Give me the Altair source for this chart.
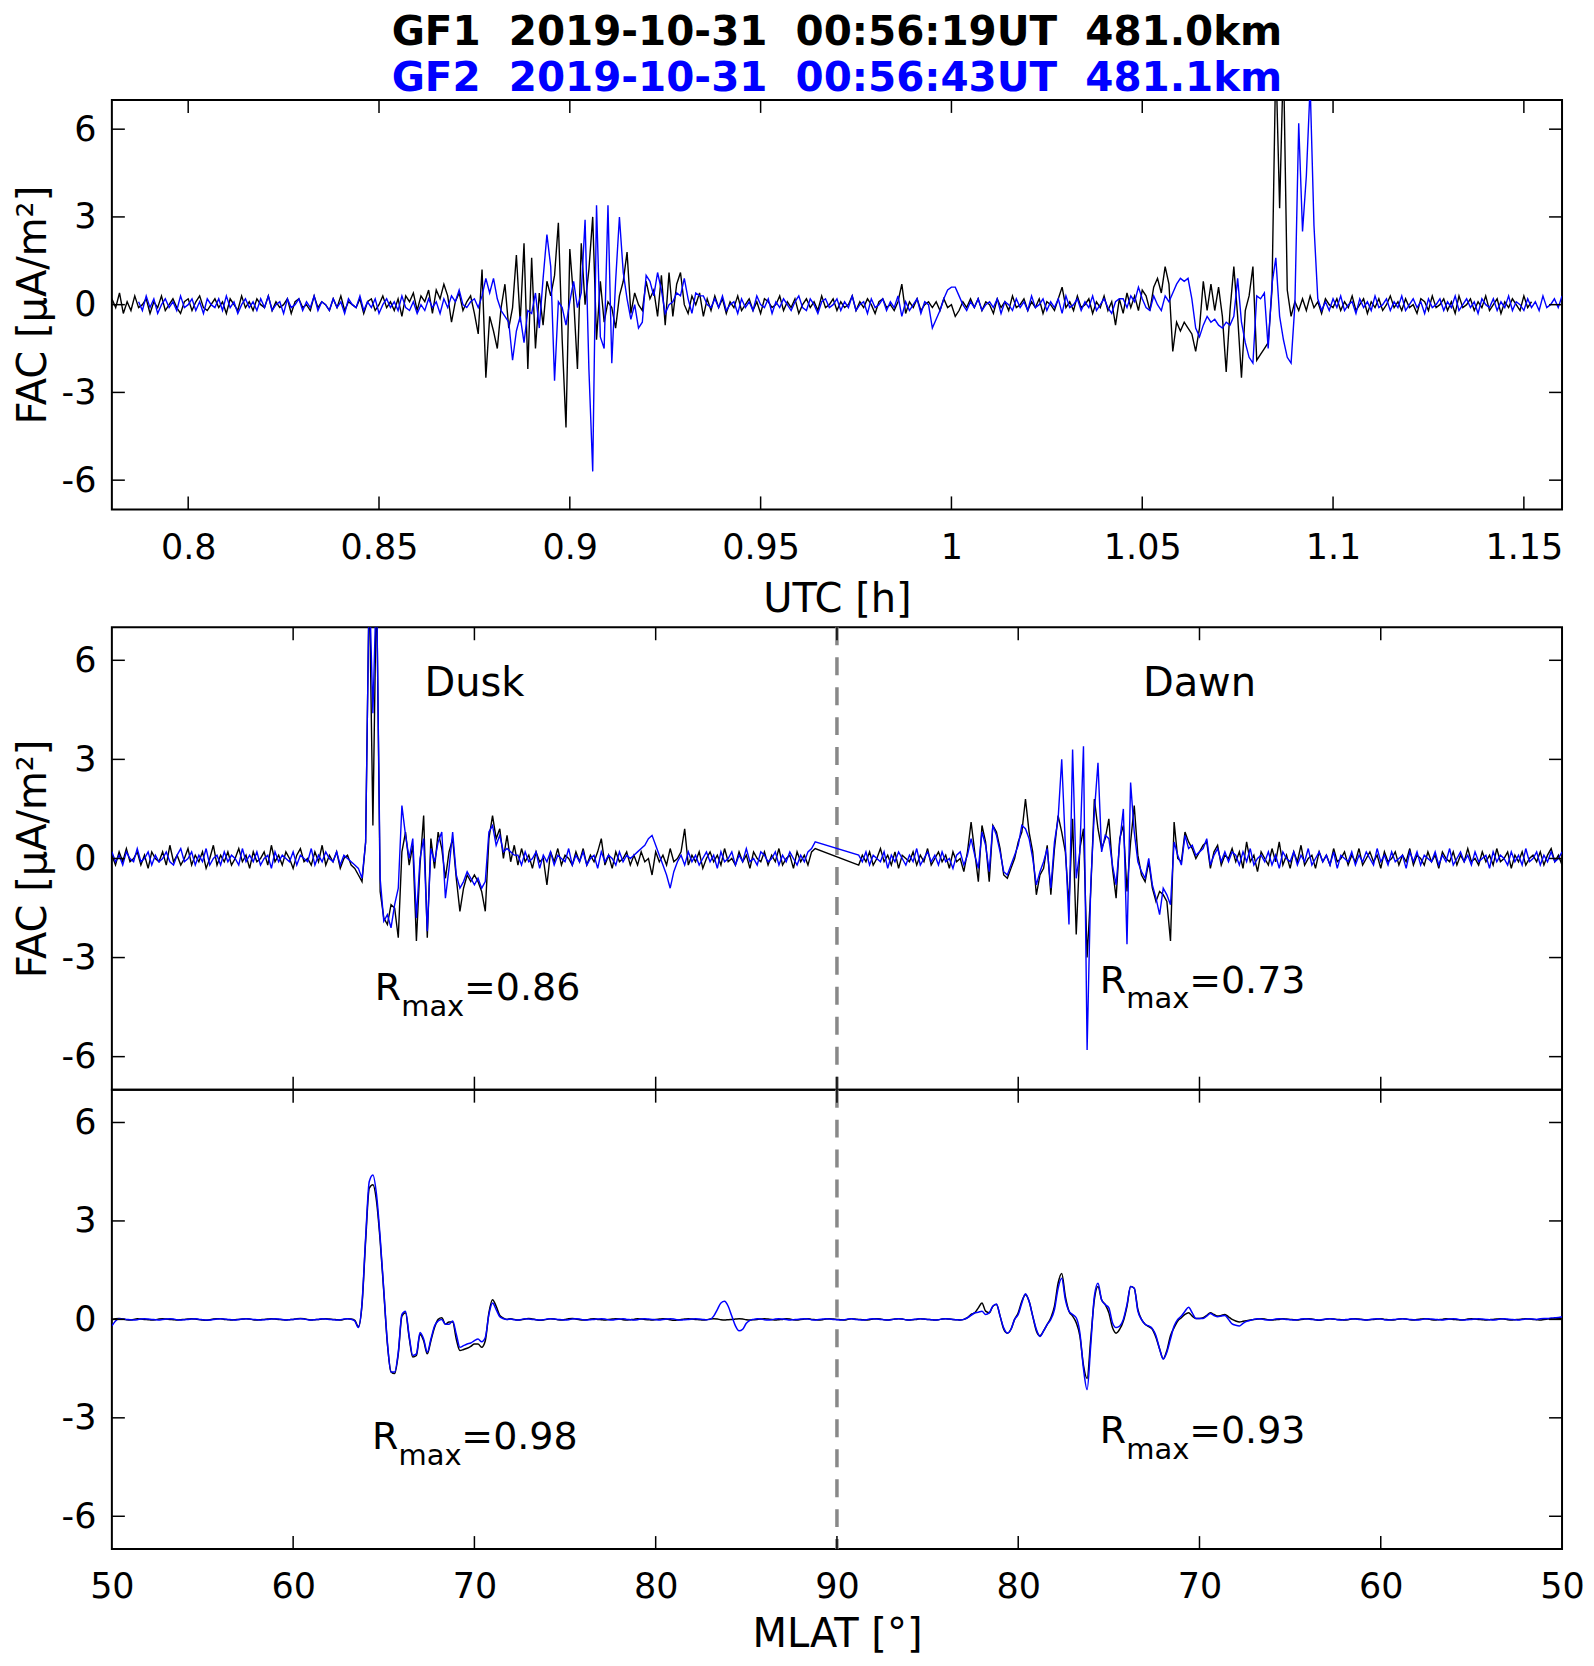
import altair as alt
import numpy as np
import pandas as pd

FONT = "DejaVu Sans"

# ---------------- text ----------------
TITLE_GF1 = "GF1\u00a0\u00a02019-10-31\u00a0\u00a000:56:19UT\u00a0\u00a0481.0km"
TITLE_GF2 = "GF2\u00a0\u00a02019-10-31\u00a0\u00a000:56:43UT\u00a0\u00a0481.1km"
Y_TITLE = "FAC [\u03bcA/m\u00b2]"
X_TITLE_TOP = "UTC [h]"
X_TITLE_BOT = "MLAT [\u00b0]"

UTC_TICKS = [0.8, 0.85, 0.9, 0.95, 1.0, 1.05, 1.1, 1.15]
MLAT_LABEL_TICKS = [50, 60, 70, 80, 90, 100, 110, 120, 130]  # position along pass (dawn side mirrored)
MLAT_TICKS = [60, 70, 80, 90, 100, 110, 120]
Y_TICKS = [-6, -3, 0, 3, 6]

# ---------------- top panel: FAC vs UTC (units of 0.1 uA/m^2), 0.001 h sampling ----------------
UTC_START = 0.78
UTC_STEP = 0.001
GF1_TOP_FIRST = 0   # first sample index of GF1
GF2_TOP_FIRST = 7   # GF2 record starts 24 s later

GF1_TOP = [
    2,-1,4,-3,1,-2,3,-1,0,2,-3,1,-1,3,-2,0,2,-1,-3,1,
    2,-2,1,3,-1,-2,0,2,-1,1,-3,2,0,-2,3,-1,1,-2,2,0,
    -1,3,-2,1,-1,0,2,-3,1,2,-1,0,-2,3,-1,1,0,-2,2,-1,
    3,-2,1,0,-1,2,-3,1,2,-2,0,3,-1,1,-2,2,-4,3,1,4,
    -2,3,1,5,-3,
    5,2,7,3,-6,1,4,-2,1,3,-3,-10,
    12,-25,-4,-9,-15,-1,7,-8,-1,17,-6,21,-22,16,-15,4,-7,8,3,10,28,-12,-42,19,2,-22,21,0,12,30,-12,8,-6,1,-1,-8,3,8,18,-3,4,
    0,-2,8,2,5,-4,10,-7,11,-4,7,11,0,-3,3,0,4,-4,2,-2,3,-1,
    2,-3,1,-1,3,-2,0,2,-2,1,-3,2,1,-1,0,3,-2,1,-1,2,-3,0,2,-1,1,-2,3,-1,0,2,
    -2,1,-1,0,3,-2,1,-1,2,0,-3,1,2,-1,0,-2,1,7,-3,1,-1,2,-2,0,1,-1,
    1,-2,2,-1,0,-4,-2,1,-1,2,
    -1,2,-2,1,0,-3,2,-1,1,-2,3,-1,0,2,-2,1,-1,2,-3,1,0,-2,2,6,-1,1,-2,3,-1,0,2,-3,1,-1,3,-2,1,
    -7,
    2,-3,4,-1,3,-2,5,
    3,-2,6,9,4,13,7,-16,-6,-9,-6,-8,-10,-16,-8,8,-2,7,-2,6,-4,-23,-2,13,-4,-25,-2,3,13,-19,-17,-15,-13,5,85,33,85,5,-4,1,-2,2,
    -2,3,-1,1,-3,2,0,-1,2,-2,1,-1,3,-2,0,2,-3,1,-1,2,-2,0,3,-1,1,-2,2,-1,0,-3,
    2,1,-2,3,-1,0,2,-2,1,-3,3,-1,0,2,-2,1,-1,3,-2,0,2,-3,1,-1,2,0,-2,3,-1,1,
]

GF2_TOP = [
    1,-2,3,-1,2,-3,0,2,-1,1,-2,3,-1,0,2,-2,1,-3,2,0,
    -1,2,-2,3,-1,1,-3,0,2,-1,1,-2,2,-1,3,-2,0,1,-3,2,
    -1,0,2,-2,1,-1,3,-2,1,0,-2,2,-1,1,-3,2,0,-1,3,-2,
    1,-1,2,-3,0,2,-1,1,-2,3,-1,-2,1,-3,0,-2,2,-1,1,-3,
    2,-1,3,1,
    5,0,-1,1,2,-1,3,9,4,9,2,-2,-4,-6,-19,-9,-4,-13,-2,-3,4,-8,9,24,13,-26,1,-1,-7,1,
    8,-1,4,29,-22,-57,34,-11,-15,34,-20,8,30,11,2,-5,0,-8,-6,10,8,3,11,5,-3,0,1,4,3,9,
    2,-3,4,3,3,0,-1,
    2,-1,3,-2,0,1,-3,2,-1,1,-2,3,0,-1,2,-3,1,-1,2,0,-2,1,3,-1,-2,2,0,-3,1,2,
    -1,0,2,-2,1,-1,3,-2,0,1,-3,2,-1,0,2,-2,1,-1,3,-4,1,-2,0,2,-3,1,0,-8,
    -5,-2,2,5,6,6,3,0,-2,
    1,-1,2,-2,0,1,-1,2,-3,1,0,-2,2,-1,1,-2,3,-1,0,2,-2,1,-1,2,-3,3,-1,0,2,-2,
    1,-1,3,-2,0,2,-1,-3,1,2,
    2,-1,3,1,6,2,-1,-2,3,0,-2,3,1,4,7,9,8,9,2,-8,-11,-7,-4,-6,-5,-7,-8,-6,-7,-4,
    9,-6,-13,-18,-20,3,2,4,-15,7,16,-4,-12,-18,-20,0,62,25,44,75,27,2,-2,
    1,-2,2,-1,3,-2,0,1,-3,2,-1,1,-2,3,-1,0,2,-2,1,-1,3,-2,0,2,-1,1,-3,2,-1,0,
    2,-2,1,-1,3,-2,0,2,-1,1,-3,2,0,-1,2,-2,1,-1,3,-2,1,0,-2,2,-1,1,-2,3,-1,0,
    2,-1,3,
]

# ---------------- middle panel: FAC vs MLAT position (0.1 uA/m^2), 0.2 deg sampling ----------------
MLAT_STEP = 0.2
DUSK_START = 50.0   # dusk leg from 50 deg up to 88.8 deg
DAWN_START = 91.2   # dawn leg from 88.8 deg (position 91.2) down to 50 deg (position 130)

GF1_MID_DUSK = [
    1,-2,2,-1,3,-1,0,2,-2,1,-3,2,0,-1,2,-2,4,-1,1,-2,
    0,3,-2,1,-1,2,-3,0,4,-2,1,-1,2,-2,0,3,-1,1,-3,2,
    -1,0,2,-2,4,-1,1,-2,2,0,-3,1,3,-1,0,-2,2,-1,4,-2,
    1,-1,2,-3,0,1,-2,-3,-5,
    -7,5,85,10,85,-10,-18,-20,-14,-15,-24,2,8,-2,4,-25,-2,13,-24,6,-3,8,3,-6,2,6,-6,-16,-9,-5,
    -7,-5,-7,-10,-16,6,13,6,9,0,7,-1,4,
    -2,3,-1,1,-3,2,-1,0,-8,2,-1,3,-2,1,0,-2,2,-1,3,-2,1,-1,2,6,-2,1,-3,2,-1,0,2,-2,
    1,-2,2,-1,0,-5,2,-1,1,-2,3,-1,0,2,9,
    -2,1,-1,2,-3,0,2,-1,1,-2,3,-1,0,-2,2,-1,1,-3,2,0,-1,2,-2,1,-1,3,-2,0,1,-3,
    2,-1,1,-2,2,3,
]
GF2_MID_DUSK = [
    2,-1,1,-2,2,0,-1,3,-1,0,2,-2,1,-1,0,2,-1,-2,1,3,
    -1,0,2,-2,1,-1,3,-2,0,1,-2,2,-1,1,0,-2,3,-1,1,-1,
    2,-2,0,1,-3,2,-1,1,0,-1,2,-2,1,0,-1,3,-2,1,-1,2,
    0,-1,2,-2,1,0,-1,-2,-3,
    -6,5,85,44,85,-6,-19,-17,-21,-14,-9,16,7,0,6,-18,0,6,-22,3,-1,5,8,-12,-3,8,-5,-9,-7,-4,
    -6,-8,-6,-9,-7,8,10,4,7,2,3,2,1,
    1,-2,2,-1,0,2,-3,1,-1,2,-2,1,0,-1,3,-2,1,-1,2,-2,0,1,-3,2,-1,1,0,-2,2,-1,1,0,
    1,2,3,4,6,7,4,1,-2,-5,-9,-4,-1,1,-2,
    2,-1,1,-2,0,2,-1,1,-3,2,-1,0,2,-2,1,-1,3,-1,0,-2,2,1,-1,0,2,-2,1,-1,2,0,
    -2,1,-1,2,3,5,
]
GF1_MID_DAWN = [
    -2,1,-1,2,-2,0,3,-1,1,-2,2,-3,1,0,-1,2,-2,1,-1,3,-2,0,2,-1,1,-3,2,-1,0,-4,
    2,
    11,2,-7,10,5,-7,10,8,3,-5,-6,-3,0,5,8,18,8,2,-11,-5,
    -3,4,-11,3,13,8,2,-14,12,-23,3,9,-30,-10,18,9,3,6,12,-3,
    -12,6,10,-10,5,16,1,-5,-7,-1,-9,-13,-10,-11,-13,-25,11,0,-1,8,
    5,3,0,2,4,5,-3,2,4,-2,1,0,3,
    -1,2,-3,5,-1,1,-4,2,0,-2,3,-1,5,-2,1,-3,2,-1,4,-2,
    0,1,-3,2,-1,1,-2,3,-1,0,2,-2,1,-1,3,-2,0,2,-1,1,
    -3,2,-1,0,2,-2,1,-1,3,-2,1,0,-2,2,-1,1,-3,2,0,-1,
    2,-2,1,-1,3,-1,0,-2,2,-1,1,-2,3,-1,0,2,-3,1,-1,2,
    -2,0,1,-1,2,-2,1,3,-1,1,-2,
]
GF2_MID_DAWN = [
    1,-1,2,-2,1,0,-1,2,-3,1,-1,2,0,-2,1,-1,3,-2,0,2,-1,1,-2,2,-1,0,-3,1,2,-2,
    1,
    6,1,-3,8,4,-4,10,7,2,-4,-5,-2,1,4,10,9,6,0,-8,-4,
    -1,3,-9,5,12,30,4,-20,33,-6,2,34,-58,-8,14,29,2,7,6,-2,
    -8,5,15,-26,23,8,-1,-4,-6,0,-8,-12,-17,-9,-11,-14,5,1,-2,7,
    3,4,1,2,3,6,-2,1,3,-1,2,-1,2,
    1,-2,2,-1,3,-2,0,1,-1,2,-2,1,-3,2,0,-1,2,-2,1,-1,
    3,-2,0,2,-1,1,-2,2,-3,1,0,-1,2,-2,1,-1,2,0,-2,3,
    -1,1,-2,2,-1,0,1,-3,2,-1,2,-2,1,0,-1,2,-2,1,-1,3,
    -2,0,2,-1,1,-2,2,-1,0,1,-3,2,-1,1,0,-2,2,-1,1,-2,
    3,-1,0,2,-2,1,-1,2,-1,0,2,
]

# ---------------- bottom panel: filtered FAC vs MLAT position (0.01 uA/m^2), 0.2 deg ----------------
BOT_START = 50.0
GF1_BOT = [
    0,2,3,1,-1,-2,0,2,1,0,-1,-2,-1,1,2,1,0,-1,-2,-1,
    0,1,2,1,0,-2,-3,-1,1,2,2,0,-1,-2,-1,0,1,2,1,-1,
    -2,-1,0,1,2,1,0,-1,-2,-1,0,2,3,2,0,-2,-1,0,1,2,
    1,0,-1,-2,0,2,1,
    -3,-22,45,240,400,410,360,240,85,-75,-160,-165,-105,10,20,-55,-115,-110,-45,-65,
    -105,-65,-25,0,5,-15,-8,-8,-60,-95,-92,-88,-82,-75,-75,-85,-65,20,60,40,12,4,0,
    2,0,-2,-1,1,3,1,-1,-3,-2,0,2,1,-1,-2,0,2,3,1,-1,
    -2,-1,1,2,0,-1,-2,0,1,2,1,-1,-2,-1,0,2,1,0,-1,-2,
    0,1,2,1,-1,-3,-2,0,1,2,1,0,-1,-2,-1,1,2,1,-1,-2,
    -1,0,1,2,1,-1,-2,-1,0,1,2,1,0,-2,-1,0,2,1,-1,-2,
    0,1,2,0,-1,-2,-1,1,2,1,0,-1,-2,0,2,1,0,-1,-2,-1,
    1,2,1,-1,-2,0,1,2,1,-1,-2,-1,0,2,1,0,-1,-2,-1,1,
    2,1,0,-1,-2,
    0,5,15,20,35,50,25,20,40,45,10,-30,-42,-30,0,20,55,75,55,10,
    -35,-50,-35,-15,5,40,110,140,70,25,10,-10,-50,-140,-180,-60,60,100,60,45,
    20,-25,-42,-30,-5,40,100,95,30,0,-15,-22,-30,-55,-90,-120,-95,-50,-25,-5,
    5,15,20,10,3,3,5,12,20,15,10,12,15,8,0,-5,-8,-6,-4,-2,0,
    1,2,1,-1,-2,-1,0,2,1,0,-1,-2,0,1,2,1,-1,-3,-1,1,
    2,1,0,-1,-2,-1,1,2,1,0,-2,-1,0,1,2,0,-1,-2,-1,1,
    2,1,-1,-2,0,1,2,1,-1,-2,-1,0,2,1,0,-1,-2,-1,1,2,
    1,0,-1,-2,-1,0,1,2,1,-1,-2,-1,0,1,2,1,0,-1,-2,0,
    1,2,1,2,3,
]
GF2_BOT = [
    -20,-5,2,1,0,-1,-2,-1,1,2,1,0,-1,-2,0,1,2,1,-1,-2,
    -1,0,1,2,0,-1,-2,-2,0,1,2,1,0,-1,-2,0,1,2,1,0,
    -1,-2,-1,0,1,2,1,0,-2,-1,0,1,2,1,-1,-2,-1,0,2,1,
    0,-1,-2,-1,1,2,0,
    -5,-25,50,250,420,440,380,250,90,-70,-160,-160,-100,15,25,-50,-110,-105,-40,-60,
    -100,-60,-20,-5,0,-15,-15,-5,-45,-85,-80,-75,-72,-65,-60,-68,-55,15,50,30,8,2,0,
    1,-1,-2,0,2,1,0,-1,-2,-1,1,2,1,0,-1,-2,-1,1,2,1,
    -1,-2,-1,0,1,2,1,-1,-2,0,1,2,0,-1,-2,-1,1,2,1,0,
    -1,-2,0,1,2,1,-1,-2,-1,0,1,2,1,0,-1,
    0,10,30,50,55,40,10,-20,-35,-30,-12,-3,
    0,2,1,-1,-2,-1,1,2,1,0,-2,-1,0,1,2,1,-1,-2,0,1,
    2,1,0,-1,-2,-1,1,2,0,-1,-2,-1,1,2,1,0,-1,-2,-1,1,
    2,1,-1,-2,0,1,2,1,0,-1,-2,-1,1,2,1,0,-1,-2,
    0,5,12,20,22,25,15,20,40,47,10,-26,-42,-30,0,15,50,78,55,10,
    -30,-52,-35,-15,0,30,95,125,60,25,15,5,-40,-150,-214,-80,70,110,60,45,
    35,-10,-25,-20,0,45,100,95,25,0,-15,-20,-28,-50,-90,-121,-100,-60,-20,0,
    10,25,37,20,3,3,3,10,18,12,8,10,12,0,-14,-18,-20,-12,-6,-3,0,
    2,1,-1,-2,-1,1,2,1,0,-1,-2,-1,1,2,1,0,-1,-2,0,1,
    2,1,-1,-2,-1,0,2,1,0,-1,-2,0,1,2,1,-1,-2,-1,0,1,
    2,1,0,-1,-2,-1,1,2,1,0,-1,-2,0,1,2,1,-1,-2,-1,0,
    1,2,1,0,-1,-2,-1,1,2,1,0,-1,-2,0,1,2,1,0,2,3,
    3,4,5,6,8,
]

# ---------------- annotations ----------------
SIDE_LABELS = ["Dusk", "Dawn"]
SIDE_X = [70.0, 110.0]
SIDE_V = [5.29, 5.29]

MID_NOTE_TEXT = ["R", "max", "=0.86", "R", "max", "=0.73"]
MID_NOTE_X = [64.5, 65.96, 69.43, 104.5, 105.96, 109.43]
MID_NOTE_V = [-3.95, -4.5, -3.95, -3.73, -4.26, -3.73]
BOT_NOTE_TEXT = ["R", "max", "=0.98", "R", "max", "=0.93"]
BOT_NOTE_X = [64.35, 65.81, 69.28, 104.5, 105.96, 109.43]
BOT_NOTE_V = [-3.62, -4.17, -3.62, -3.43, -3.97, -3.43]
NOTE_SIZE = [38, 29, 38, 38, 29, 38]

# ---------------- layout constants ----------------
W = 1452
H_TOP, H_MID, H_BOT = 410, 463, 460
GAP_TOP_MID = 118
TICK_LEN = 13
BLACK = "#000000"
BLUE = "#0000ff"

# ---------------- data frames ----------------
def top_df(vals, first):
    k = np.arange(len(vals)) + first
    return pd.DataFrame({"x": UTC_START + UTC_STEP * k, "v": np.array(vals, dtype=float) / 10.0})

def mid_df(dusk, dawn):
    xd = DUSK_START + MLAT_STEP * np.arange(len(dusk))
    xn = DAWN_START + MLAT_STEP * np.arange(len(dawn))
    return pd.DataFrame({"x": np.concatenate([xd, xn]),
                         "v": np.array(list(dusk) + list(dawn), dtype=float) / 10.0})

def bot_df(vals):
    return pd.DataFrame({"x": BOT_START + MLAT_STEP * np.arange(len(vals)),
                         "v": np.array(vals, dtype=float) / 100.0})

df_top1 = top_df(GF1_TOP, GF1_TOP_FIRST)
df_top2 = top_df(GF2_TOP, GF2_TOP_FIRST)
df_mid1 = mid_df(GF1_MID_DUSK, GF1_MID_DAWN)
df_mid2 = mid_df(GF2_MID_DUSK, GF2_MID_DAWN)
df_bot1 = bot_df(GF1_BOT)
df_bot2 = bot_df(GF2_BOT)

# ---------------- encodings ----------------
def y_enc(title=True):
    kw = dict(values=Y_TICKS, labelExpr="'' + datum.value", ticks=False, tickSize=0, domain=False,
              grid=False, labelFont=FONT, labelFontSize=35, labelColor="black", labelPadding=16)
    if title:
        kw.update(title=Y_TITLE, titleFont=FONT, titleFontSize=40, titleFontWeight="normal",
                  titleColor="black", titlePadding=8)
    else:
        kw.update(title=None)
    return alt.Y("v:Q", scale=alt.Scale(domain=[-7, 7], nice=False, zero=False), axis=alt.Axis(**kw))

def x_top_enc():
    return alt.X("x:Q", scale=alt.Scale(domain=[0.78, 1.16], nice=False, zero=False),
                 axis=alt.Axis(values=UTC_TICKS, format=".2~f", ticks=False, tickSize=0, domain=False,
                               grid=False, labelFont=FONT, labelFontSize=35, labelColor="black",
                               labelPadding=21, labelFlush=False, title=X_TITLE_TOP, titleFont=FONT,
                               titleFontSize=40, titleFontWeight="normal", titleColor="black",
                               titlePadding=14))

def x_mlat_enc(with_axis):
    sc = alt.Scale(domain=[50, 130], nice=False, zero=False)
    if not with_axis:
        return alt.X("x:Q", scale=sc, axis=None)
    return alt.X("x:Q", scale=sc,
                 axis=alt.Axis(values=MLAT_LABEL_TICKS,
                               labelExpr="'' + (datum.value <= 90 ? datum.value : 180 - datum.value)",
                               ticks=False, tickSize=0, domain=False, grid=False, labelFont=FONT,
                               labelFontSize=35, labelColor="black", labelPadding=20, labelFlush=False,
                               title=X_TITLE_BOT, titleFont=FONT, titleFontSize=40,
                               titleFontWeight="normal", titleColor="black", titlePadding=11))

def tick_layers(xenc, yenc, xvals, h):
    yt = pd.DataFrame({"v": Y_TICKS})
    xt = pd.DataFrame({"x": xvals})
    st = dict(color="black", strokeWidth=1.5)
    return [
        alt.Chart(yt).mark_rule(**st).encode(y=yenc, x=alt.value(0), x2=alt.value(TICK_LEN)),
        alt.Chart(yt).mark_rule(**st).encode(y=yenc, x=alt.value(W - TICK_LEN), x2=alt.value(W)),
        alt.Chart(xt).mark_rule(**st).encode(x=xenc, y=alt.value(0), y2=alt.value(TICK_LEN)),
        alt.Chart(xt).mark_rule(**st).encode(x=xenc, y=alt.value(h - TICK_LEN), y2=alt.value(h)),
    ]

def lines(df1, df2, xenc, yenc, interp="linear", sw=1.4):
    l1 = alt.Chart(df1).mark_line(color=BLACK, strokeWidth=sw, clip=True, interpolate=interp).encode(x=xenc, y=yenc)
    l2 = alt.Chart(df2).mark_line(color=BLUE, strokeWidth=sw, clip=True, interpolate=interp).encode(x=xenc, y=yenc)
    return [l1, l2]

def notes(xs, vs, texts, xenc, yenc):
    df = pd.DataFrame({"x": xs, "v": vs, "label": texts, "size": NOTE_SIZE})
    return alt.Chart(df).mark_text(align="left", baseline="middle", font=FONT, color="black").encode(
        x=xenc, y=yenc, text="label:N", size=alt.Size("size:Q", scale=None, legend=None))

def pole_line(xenc):
    return alt.Chart(pd.DataFrame({"x": [90]})).mark_rule(
        color="#888888", strokeWidth=3.5, strokeDash=[18, 12]).encode(x=xenc)

# ---------------- panels ----------------
xt_enc = x_top_enc()
yt_enc = y_enc(True)
top = alt.layer(
    *lines(df_top1, df_top2, xt_enc, yt_enc),
    *tick_layers(xt_enc, yt_enc, UTC_TICKS, H_TOP),
).properties(
    width=W, height=H_TOP,
    title=alt.TitleParams(text=TITLE_GF1, subtitle=TITLE_GF2, anchor="middle", frame="group",
                          font=FONT, fontSize=40.5, fontWeight="bold", color="black",
                          subtitleFont=FONT, subtitleFontSize=40.5, subtitleFontWeight="bold",
                          subtitleColor=BLUE, subtitlePadding=5.5, offset=0),
)

xm_enc = x_mlat_enc(False)
ym_enc = y_enc(True)
side_df = pd.DataFrame({"x": SIDE_X, "v": SIDE_V, "label": SIDE_LABELS})
mid = alt.layer(
    pole_line(xm_enc),
    *lines(df_mid1, df_mid2, xm_enc, ym_enc),
    *tick_layers(xm_enc, ym_enc, MLAT_TICKS, H_MID),
    alt.Chart(side_df).mark_text(align="center", baseline="middle", font=FONT, fontSize=40, color="black")
    .encode(x=xm_enc, y=ym_enc, text="label:N"),
    notes(MID_NOTE_X, MID_NOTE_V, MID_NOTE_TEXT, xm_enc, ym_enc),
).properties(width=W, height=H_MID)

xb_enc = x_mlat_enc(True)
yb_enc = y_enc(False)
bot = alt.layer(
    pole_line(xb_enc),
    *lines(df_bot1, df_bot2, xb_enc, yb_enc, interp="monotone", sw=1.5),
    *tick_layers(xb_enc, yb_enc, MLAT_TICKS, H_BOT),
    notes(BOT_NOTE_X, BOT_NOTE_V, BOT_NOTE_TEXT, xb_enc, yb_enc),
).properties(width=W, height=H_BOT)

lower = alt.vconcat(mid, bot, spacing=0, bounds="flush")
chart = alt.vconcat(top, lower, spacing=GAP_TOP_MID, bounds="flush").properties(
    padding={"left": 4, "top": 2, "right": 0, "bottom": 0}
).configure(font=FONT).configure_view(stroke="black", strokeWidth=2)

chart.save("out.html", embed_options={"renderer": "svg", "actions": False})
